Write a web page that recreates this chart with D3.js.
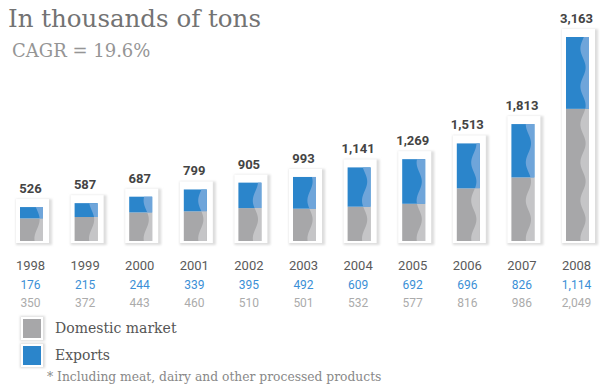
<!DOCTYPE html>
<html>
<head>
<meta charset="utf-8">
<script src="https://cdn.jsdelivr.net/npm/d3@7"></script>
<style>
	body { margin: 0; background: #fff; }
	svg { display: block; }
</style>
</head>
<body>
<div id="chart"></div>
<script>
var years = ["1998", "1999", "2000", "2001", "2002", "2003", "2004", "2005", "2006", "2007", "2008"];
var exportsVals = [176, 215, 244, 339, 395, 492, 609, 692, 696, 826, 1114];
var domesticVals = [350, 372, 443, 460, 510, 501, 532, 577, 816, 986, 2049];
var totalVals = [526, 587, 687, 799, 905, 993, 1141, 1269, 1513, 1813, 3163];

var grayColor = "#a7a7a9",
	grayLight = "#c5c5c7",
	blueColor = "#2b85cb",
	blueLight = "#6fa5da";

var width = 609,
	height = 386;

var svg = d3.select("#chart")
	.append("svg")
	.attr("width", width)
	.attr("height", height);

// soft shadow for the white frames
var defs = svg.append("defs");
var filter = defs.append("filter")
	.attr("id", "shadow")
	.attr("x", "-30%").attr("y", "-30%")
	.attr("width", "160%").attr("height", "160%");
filter.append("feGaussianBlur").attr("stdDeviation", 1.2);

// title
svg.append("text")
	.attr("x", 8)
	.attr("y", 27)
	.style("font-family", "DejaVu Serif")
	.style("font-size", "24.5px")
	.style("fill", "#737373")
	.text("In thousands of tons");

svg.append("text")
	.attr("x", 12)
	.attr("y", 57)
	.style("font-family", "DejaVu Serif")
	.style("font-size", "18px")
	.style("fill", "#959595")
	.text("CAGR = 19.6%");

var barW = 23;

var x = d3.scalePoint()
	.domain(years)
	.range([31.5, 577.5]);

var y = d3.scaleLinear()
	.domain([0, d3.max(totalVals)])
	.range([241, 37]);

var data = years.map(function (yr, i) {
	return { year: yr, dom: domesticVals[i], exp: exportsVals[i], total: totalVals[i] };
});

var groups = svg.selectAll(".bar")
	.data(data)
	.enter()
	.append("g")
	.attr("class", "bar");

// frame shadow
groups.append("rect")
	.attr("x", function (d) { return x(d.year) - barW / 2 - 4; })
	.attr("y", function (d) { return y(d.total) - 8; })
	.attr("width", barW + 13)
	.attr("height", function (d) { return y(0) - y(d.total) + 12; })
	.style("fill", "#dddddd")
	.attr("filter", "url(#shadow)");

// white frame
groups.append("rect")
	.attr("x", function (d) { return x(d.year) - barW / 2 - 4; })
	.attr("y", function (d) { return y(d.total) - 8; })
	.attr("width", barW + 10)
	.attr("height", function (d) { return y(0) - y(d.total) + 10; })
	.style("fill", "#fff");

// domestic
groups.append("rect")
	.attr("x", function (d) { return x(d.year) - barW / 2; })
	.attr("y", function (d) { return y(d.dom); })
	.attr("width", barW)
	.attr("height", function (d) { return y(0) - y(d.dom); })
	.style("fill", grayColor);

// exports
groups.append("rect")
	.attr("x", function (d) { return x(d.year) - barW / 2; })
	.attr("y", function (d) { return y(d.total); })
	.attr("width", barW)
	.attr("height", function (d) { return y(d.dom) - y(d.total); })
	.style("fill", blueColor);

// wavy highlight band on the right of each segment
function wave(right, top, bottom) {
	var pts = [[right, top]];
	d3.range(top, bottom, 1).concat([bottom]).forEach(function (yy) {
		pts.push([right - 6 + 2.6 * Math.sin((yy - 20) / 38 * 2 * Math.PI), yy]);
	});
	pts.push([right, bottom]);
	return d3.line()(pts) + "Z";
}

groups.append("path")
	.attr("d", function (d) {
		return wave(x(d.year) + barW / 2, y(d.dom), y(0));
	})
	.style("fill", grayLight);

groups.append("path")
	.attr("d", function (d) {
		return wave(x(d.year) + barW / 2, y(d.total), y(d.dom));
	})
	.style("fill", blueLight);

// total labels
groups.append("text")
	.attr("x", function (d) { return x(d.year) - 1; })
	.attr("y", function (d) { return y(d.total) - 14; })
	.attr("text-anchor", "middle")
	.style("font-family", "Roboto")
	.style("font-weight", "bold")
	.style("font-size", "13px")
	.style("fill", "#444")
	.text(function (d) { return d3.format(",")(d.total); });

// year, exports, domestic rows
var fmt = d3.format(",");
groups.append("text")
	.attr("x", function (d) { return x(d.year) - 1; })
	.attr("y", 270)
	.attr("text-anchor", "middle")
	.style("font-family", "Roboto")
	.style("font-size", "13px")
	.style("fill", "#5a5a5a")
	.text(function (d) { return d.year; });

groups.append("text")
	.attr("x", function (d) { return x(d.year) - 1; })
	.attr("y", 289)
	.attr("text-anchor", "middle")
	.style("font-family", "Roboto")
	.style("font-size", "12px")
	.style("fill", "#3b8fd6")
	.text(function (d) { return fmt(d.exp); });

groups.append("text")
	.attr("x", function (d) { return x(d.year) - 1; })
	.attr("y", 307)
	.attr("text-anchor", "middle")
	.style("font-family", "Roboto")
	.style("font-size", "12px")
	.style("fill", "#ababab")
	.text(function (d) { return fmt(d.dom); });

// legend
var legendItems = [
	{ label: "Domestic market", color: grayColor },
	{ label: "Exports", color: blueColor }
];
var legend = svg.selectAll(".legend")
	.data(legendItems)
	.enter()
	.append("g")
	.attr("class", "legend")
	.attr("transform", function (d, i) { return "translate(23," + (319 + i * 27) + ")"; });

legend.append("rect")
	.attr("x", -3).attr("y", -3)
	.attr("width", 25).attr("height", 25)
	.style("fill", "#dcdcdc")
	.attr("filter", "url(#shadow)");
legend.append("rect")
	.attr("x", -2).attr("y", -2)
	.attr("width", 22).attr("height", 23)
	.style("fill", "#fff");
legend.append("rect")
	.attr("width", 18).attr("height", 19)
	.style("fill", function (d) { return d.color; });
legend.append("text")
	.attr("x", 32)
	.attr("y", 14)
	.style("font-family", "DejaVu Serif")
	.style("font-size", "14px")
	.style("fill", "#555")
	.text(function (d) { return d.label; });

svg.append("text")
	.attr("x", 47)
	.attr("y", 381)
	.style("font-family", "DejaVu Serif")
	.style("font-size", "12.3px")
	.style("fill", "#888")
	.text("* Including meat, dairy and other processed products");
</script>
</body>
</html>
